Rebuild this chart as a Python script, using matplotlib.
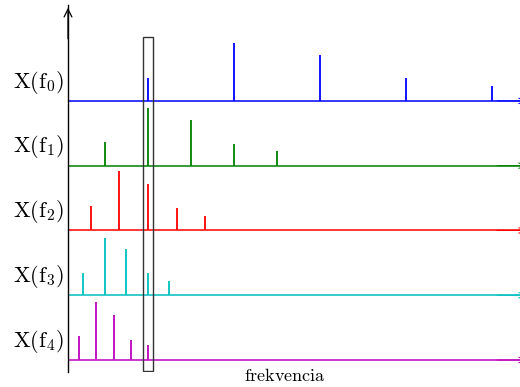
import matplotlib
matplotlib.use("Agg")
import matplotlib.pyplot as plt
from matplotlib.patches import Rectangle

plt.rcParams["mathtext.fontset"] = "cm"

# spectra of five signals: fundamental of row k is 1/(k+1), five harmonics each
fundamentals = [1.0, 1 / 2, 1 / 3, 1 / 4, 1 / 5]
harmonics = [1, 2, 3, 4, 5]
amplitudes = [
    [0.36, 0.89, 0.71, 0.36, 0.23],
    [0.37, 0.89, 0.71, 0.34, 0.23],
    [0.37, 0.91, 0.71, 0.34, 0.23],
    [0.34, 0.89, 0.71, 0.34, 0.22],
    [0.37, 0.89, 0.69, 0.31, 0.23],
]
colors = ["b", "g", "r", "c", "m"]
labels = [r"$\mathrm{X(f_%d)}$" % k for k in range(5)]

fig = plt.figure(figsize=(5.2, 3.87), dpi=100)
ax = fig.add_axes([68 / 520, 15 / 387, 452 / 520, 367 / 387])
x_lo, x_hi = 0.07, 5.326
ax.set_xlim(x_lo, x_hi)
ax.set_ylim(-0.185, 5.48)

for k, (f, amps, col, lab) in enumerate(zip(fundamentals, amplitudes, colors, labels)):
    base = 4 - k
    freqs = [f * h for h in harmonics]
    ax.vlines(freqs, base, [base + a for a in amps], color=col, lw=1.3)
    ax.axhline(base, color=col, lw=1.1)
    # arrow head at the right end of each baseline, mostly past the edge
    ax.annotate("", xy=(x_hi + 0.095, base), xytext=(x_hi - 0.3, base),
                arrowprops=dict(arrowstyle="->", color=col, lw=0.7,
                                mutation_scale=10),
                annotation_clip=False)
    ax.text(-0.01, base + 0.29, lab, fontsize=16, ha="right", va="center",
            transform=ax.get_yaxis_transform())

# frame around the common frequency
ax.add_patch(Rectangle((0.942, -0.17), 0.116, 5.155, fill=False,
                       edgecolor="#333333", lw=1.0, zorder=5))

for side in ["top", "right", "bottom"]:
    ax.spines[side].set_visible(False)
ax.spines["left"].set_linewidth(1.0)
ax.set_xticks([])
ax.set_yticks([])
ax.annotate("", xy=(0, 1.0), xytext=(0, 0.9), xycoords="axes fraction",
            arrowprops=dict(arrowstyle="->", lw=0.9, mutation_scale=14))

fig.text(285 / 520, 1 - 376 / 387, r"$\mathrm{frekvencia}$", fontsize=13,
         ha="center", va="center")

fig.savefig("out.png", dpi=100)
